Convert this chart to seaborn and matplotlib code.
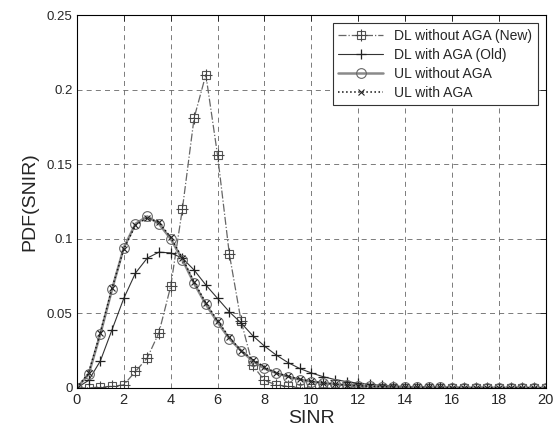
import numpy as np
import pandas as pd
import seaborn as sns
import matplotlib.pyplot as plt
from matplotlib.legend_handler import HandlerTuple

# SINR sample points
sinr = [0, 0.5, 1, 1.5, 2, 2.5, 3, 3.5, 4, 4.5, 5, 5.5, 6, 6.5, 7, 7.5, 8, 8.5, 9, 9.5,
        10, 10.5, 11, 11.5, 12, 12.5, 13, 13.5, 14, 14.5, 15, 15.5, 16, 16.5, 17, 17.5,
        18, 18.5, 19, 19.5, 20]

dl_no_aga = [0, 0, 0.0005, 0.001, 0.002, 0.011, 0.020, 0.037, 0.068, 0.120, 0.181, 0.210,
             0.156, 0.090, 0.045, 0.015, 0.005, 0.002, 0.001,
             0, 0, 0, 0, 0, 0, 0, 0, 0, 0, 0, 0, 0, 0, 0, 0, 0, 0, 0, 0, 0, 0]

dl_aga = [0, 0.005, 0.018, 0.039, 0.060, 0.077, 0.087, 0.091, 0.0905, 0.087, 0.079, 0.069,
          0.060, 0.051, 0.0436, 0.035, 0.028, 0.022, 0.017, 0.013, 0.010, 0.0075, 0.0056,
          0.0042, 0.0031, 0.0023, 0.0017, 0.0012, 0.0009, 0.0006, 0.0004, 0.0003, 0.0002,
          0.0002, 0.0001, 0.0001, 0.0001, 0, 0, 0, 0]

ul_no_aga = [0, 0.009, 0.036, 0.066, 0.094, 0.110, 0.115, 0.110, 0.100, 0.086, 0.070, 0.056,
             0.044, 0.033, 0.025, 0.018, 0.013, 0.010, 0.0075, 0.0056, 0.0042, 0.0032, 0.0024,
             0.0018, 0.0013, 0.0010, 0.0008, 0.0006, 0.0005, 0.0004, 0.0003, 0.0003, 0.0002,
             0.0002, 0.0001, 0.0001, 0.0001, 0.0001, 0.0001, 0, 0]

ul_aga = [0, 0.010, 0.037, 0.067, 0.093, 0.109, 0.114, 0.111, 0.101, 0.087, 0.071, 0.057,
          0.045, 0.034, 0.025, 0.019, 0.014, 0.010, 0.0078, 0.0058, 0.0044, 0.0033, 0.0025,
          0.0019, 0.0014, 0.0011, 0.0008, 0.0006, 0.0005, 0.0004, 0.0003, 0.0003, 0.0002,
          0.0002, 0.0001, 0.0001, 0.0001, 0.0001, 0.0001, 0, 0]

labels = ['DL without AGA (New)', 'DL with AGA (Old)', 'UL without AGA', 'UL with AGA']
xticks = [0, 2, 4, 6, 8, 10, 12, 14, 16, 18, 20]
yticks = [0, 0.05, 0.1, 0.15, 0.2, 0.25]
ytick_labels = ['0', '0.05', '0.1', '0.15', '0.2', '0.25']

sns.set_style('white')
plt.rcParams['font.family'] = ['Liberation Sans', 'DejaVu Sans']

fig = plt.figure(figsize=(5.57, 4.3), dpi=100)
ax = fig.add_axes([0.138, 0.098, 0.842, 0.867])

# DL without AGA: dash-dot with squares and plus
sns.lineplot(x=sinr, y=dl_no_aga, ax=ax, color='#666666', linestyle='-.', linewidth=0.9,
             marker='s', markersize=6, markerfacecolor='none', markeredgecolor='#555555',
             markeredgewidth=0.8, label='_a')
sns.lineplot(x=sinr, y=dl_no_aga, ax=ax, linestyle='none', marker='+', markersize=8,
             markeredgecolor='#444444', markeredgewidth=0.8, label='_b')
# DL with AGA
sns.lineplot(x=sinr, y=dl_aga, ax=ax, color='#333333', linestyle='-', linewidth=0.8,
             marker='+', markersize=7, markeredgecolor='#222222', markeredgewidth=0.9, label='_c')
# UL without AGA
sns.lineplot(x=sinr, y=ul_no_aga, ax=ax, color='#8a8a8a', linestyle='-', linewidth=1.8,
             marker='o', markersize=7, markerfacecolor='none', markeredgecolor='#666666',
             markeredgewidth=0.8, label='_d')
# UL with AGA
sns.lineplot(x=sinr, y=ul_aga, ax=ax, color='#111111', linestyle=':', linewidth=1.1,
             marker='x', markersize=4, markeredgecolor='#222222', markeredgewidth=0.8, label='_e')

lines = ax.get_lines()
handles = [(lines[0], lines[1]), lines[2], lines[3], lines[4]]
leg = ax.legend(handles, labels, loc='upper right', fontsize=10, frameon=True, fancybox=False,
                edgecolor='#333333', framealpha=1, handlelength=3.2, borderaxespad=0.6,
                labelspacing=0.35, handler_map={tuple: HandlerTuple(ndivide=1, pad=0)})
leg.get_frame().set_linewidth(0.8)

ax.set_xlim(0, 20)
ax.set_ylim(0, 0.25)
ax.set_xticks(xticks)
ax.set_yticks(yticks)
ax.set_yticklabels(ytick_labels)
ax.grid(True, color='#666666', linestyle=(0, (6, 5)), linewidth=0.6)
ax.tick_params(direction='in', top=True, right=True, length=4, width=0.7)
ax.tick_params(axis='x', labelsize=10.5, pad=4)
ax.tick_params(axis='y', labelsize=9.5, pad=3)
for s in ax.spines.values():
    s.set_color('black')
    s.set_linewidth(0.8)

ax.set_xlabel('SINR', fontsize=14, labelpad=2)
ax.set_ylabel('PDF(SNIR)', fontsize=14, labelpad=6)

plt.savefig('out.png', dpi=100)
